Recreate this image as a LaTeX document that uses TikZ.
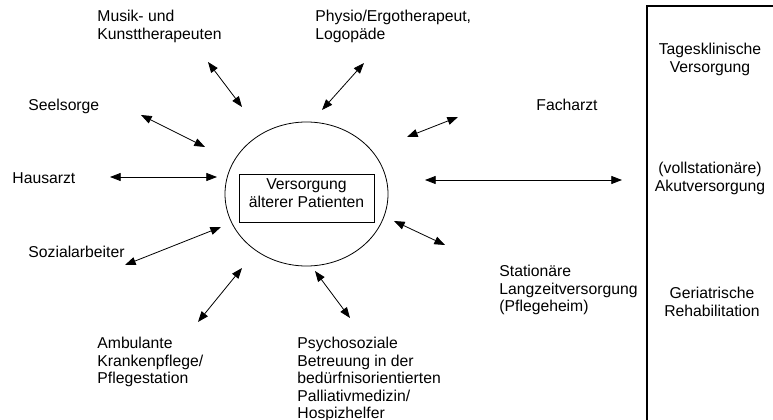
\documentclass[tikz,border=0pt]{standalone}
\usepackage{fontspec}
\setmainfont{Liberation Sans}
\usetikzlibrary{%
  arrows.meta,%
  shapes.geometric,% wg. ellipse
  positioning%
}

\begin{document}
\begin{tikzpicture}[
  x=0.75pt, y=-0.75pt,
  font=\fontsize{11.8}{13.1}\selectfont, >={Triangle[length=8pt,width=6pt]},
  line width=0.6pt,
  lbl/.style={inner sep=0pt, align=left},
  rlbl/.style={inner sep=0pt, align=center, anchor=north}
]
\useasboundingbox (0,0) rectangle (773,420);

\node[draw, ellipse, minimum width=122.25pt, minimum height=108pt] (kreis) at (306.5,194) {};
\node[draw, align=center, minimum width=101.25pt, minimum height=36pt, text depth=7.5pt]
  (kern) at (306.5,198) {Versorgung\\älterer Patienten};

\draw[line width=0.8pt] (790,6) -- (647,6) -- (647,430);

\node[lbl, anchor=north west] (musik) at (97,10) {Musik- und\\Kunsttherapeuten};
\node[lbl, anchor=north west] (physio) at (315,10) {Physio/Ergotherapeut,\\Logopäde};
\node[lbl, anchor=base west] (seelsorge) at (28,111) {Seelsorge};
\node[lbl, anchor=base west] (hausarzt) at (12,184) {Hausarzt};
\node[lbl, anchor=base west] (facharzt) at (536,111) {Facharzt};
\node[lbl, anchor=base west] (sozial) at (28,257) {Sozialarbeiter};
\node[lbl, anchor=north west] (ambulant) at (97,337) {Ambulante\\Krankenpflege/\\Pflegestation};
\node[lbl, anchor=north west] (psycho) at (297,337)
  {Psychosoziale\\Betreuung in der\\bedürfnisorientierten\\Palliativmedizin/\\Hospizhelfer};
\node[lbl, anchor=north west] (station) at (499,265) {Stationäre\\Langzeitversorgung\\(Pflegeheim)};

\node[rlbl] (tages) at (710,43) {Tagesklinische\\Versorgung};
\node[rlbl] (akut) at (710,162) {(vollstationäre)\\Akutversorgung};
\node[rlbl] (geriatr) at (712,287) {Geriatrische\\Rehabilitation};

\foreach \n/\xa/\ya/\xb/\yb in {musik/208/62/242/107, physio/364/63/322/110,
  seelsorge/141/115/205/147, hausarzt/110/177/217/177, facharzt/458/117/407/137,
  akut/622/180/425/180, sozial/125/265/221/227, ambulant/198/322/242/268,
  psycho/350/318/315/271, station/445/245/394/221} {
  \coordinate (\n-a) at (\xa,\ya);
  \coordinate (\n-b) at (\xb,\yb);
  \draw[<->] (\n-a) -- (\n-b);
}

\end{tikzpicture}
\end{document}
